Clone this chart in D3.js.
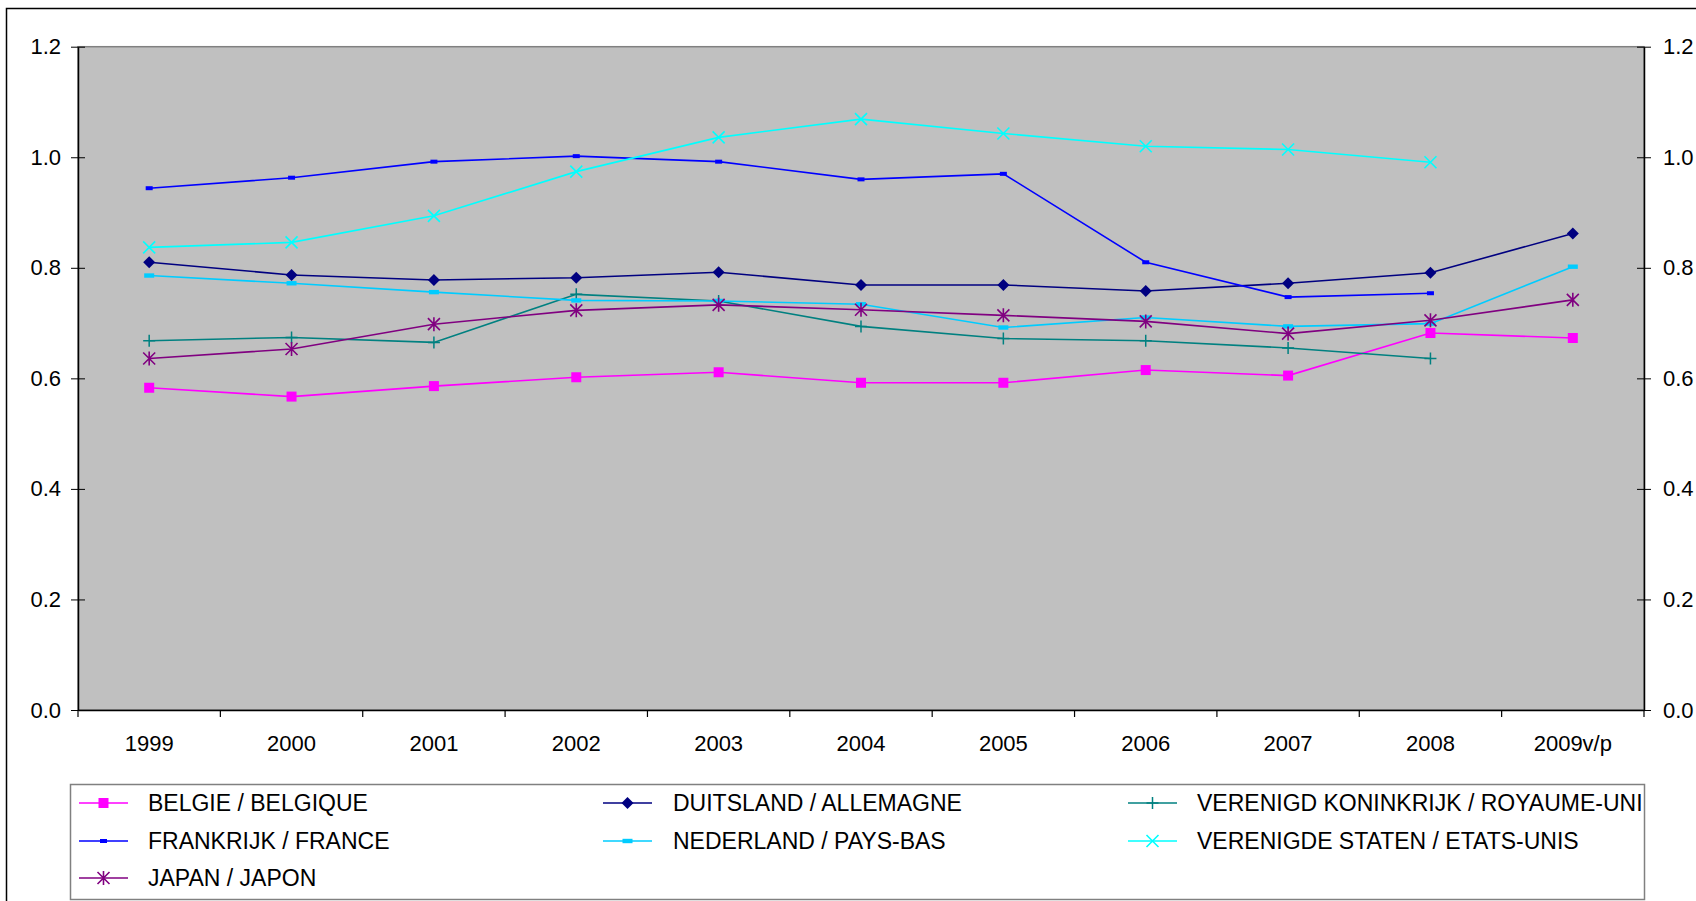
<!DOCTYPE html>
<html>
<head>
<meta charset="utf-8">
<script src="https://cdn.jsdelivr.net/npm/d3@7"></script>
<style>
  html, body { margin: 0; padding: 0; background: #fff; }
  svg { display: block; font-family: "Liberation Sans", Arial, sans-serif; }
</style>
</head>
<body>
<svg id="chart" width="1696" height="901"></svg>
<script>
const categories = ["1999","2000","2001","2002","2003","2004","2005","2006","2007","2008","2009v/p"];
const yTicks = [0, 0.2, 0.4, 0.6, 0.8, 1.0, 1.2];

const belgie      = [0.583, 0.567, 0.586, 0.602, 0.611, 0.592, 0.592, 0.615, 0.605, 0.682, 0.673];
const duitsland   = [0.810, 0.787, 0.778, 0.782, 0.792, 0.769, 0.769, 0.758, 0.772, 0.791, 0.862];
const verenigdK   = [0.668, 0.674, 0.665, 0.752, 0.740, 0.694, 0.672, 0.668, 0.655, 0.636, null];
const frankrijk   = [0.944, 0.963, 0.992, 1.002, 0.992, 0.960, 0.970, 0.810, 0.747, 0.754, null];
const nederland   = [0.786, 0.772, 0.756, 0.741, 0.740, 0.734, 0.692, 0.710, 0.694, 0.699, 0.802];
const verenigdS   = [0.837, 0.846, 0.894, 0.974, 1.036, 1.069, 1.043, 1.020, 1.014, 0.991, null];
const japan       = [0.636, 0.653, 0.698, 0.723, 0.733, 0.724, 0.714, 0.703, 0.681, 0.705, 0.742];

const seriesNames = [
  "BELGIE / BELGIQUE", "DUITSLAND / ALLEMAGNE", "VERENIGD KONINKRIJK / ROYAUME-UNI",
  "FRANKRIJK / FRANCE", "NEDERLAND / PAYS-BAS", "VERENIGDE STATEN / ETATS-UNIS",
  "JAPAN / JAPON"
];
const seriesValues = [belgie, duitsland, verenigdK, frankrijk, nederland, verenigdS, japan];
const seriesColors = ["#FF00FF", "#000080", "#008080", "#0000FF", "#00CCFF", "#00FFFF", "#800080"];
const seriesMarkers = ["square", "diamond", "plus", "dashSmall", "dashWide", "x", "star"];

const svg = d3.select("#chart");
const FONT = 22;
const LEGEND_FONT = 23;

// outer chart border
svg.append("rect").attr("x", 6.5).attr("y", 8.5).attr("width", 1700).attr("height", 900)
  .attr("fill", "#fff").attr("stroke", "#000").attr("stroke-width", 1.5);

const plot = { left: 78, right: 1644, top: 46.7, bottom: 710 };
const x = d3.scaleBand().domain(categories).range([plot.left, plot.right]).padding(0);
const y = d3.scaleLinear().domain([0, 1.2]).range([plot.bottom, plot.top]);
const cx = c => x(c) + x.bandwidth() / 2;

// plot background
svg.append("rect").attr("x", plot.left).attr("y", plot.top)
  .attr("width", plot.right - plot.left).attr("height", plot.bottom - plot.top)
  .attr("fill", "#C0C0C0").attr("stroke", "#808080").attr("stroke-width", 1.5);

// left axis (cross ticks)
const gl = svg.append("g").attr("transform", `translate(${plot.left},0)`)
  .call(d3.axisLeft(y).tickValues(yTicks).tickFormat(d3.format(".1f")).tickSize(7).tickSizeOuter(0).tickPadding(10));
gl.selectAll(".tick line").attr("x2", -7).attr("x1", 7);
gl.select(".domain").attr("stroke", "#000").attr("stroke-width", 1.5);
gl.selectAll("text").attr("font-size", FONT).attr("fill", "#000").attr("font-family", "Liberation Sans, Arial, sans-serif");

// right axis (cross ticks)
const gr = svg.append("g").attr("transform", `translate(${plot.right},0)`)
  .call(d3.axisRight(y).tickValues(yTicks).tickFormat(d3.format(".1f")).tickSize(7).tickSizeOuter(0).tickPadding(12));
gr.selectAll(".tick line").attr("x1", -7).attr("x2", 7);
gr.select(".domain").attr("stroke", "#000").attr("stroke-width", 1.5);
gr.selectAll("text").attr("font-size", FONT).attr("fill", "#000").attr("font-family", "Liberation Sans, Arial, sans-serif");

// bottom axis: labels centred in bands, ticks on band boundaries
const gb = svg.append("g").attr("transform", `translate(0,${plot.bottom})`)
  .call(d3.axisBottom(x).tickSize(0).tickPadding(25));
gb.select(".domain").attr("stroke", "#000").attr("stroke-width", 1.5);
gb.selectAll("text").attr("font-size", FONT).attr("fill", "#000").attr("font-family", "Liberation Sans, Arial, sans-serif");
const bounds = categories.map(c => x(c)).concat([plot.right]);
gb.selectAll(".bnd").data(bounds).enter().append("line")
  .attr("x1", d => d).attr("x2", d => d).attr("y1", 0).attr("y2", 7)
  .attr("stroke", "#000").attr("stroke-width", 1.2);

// marker drawing
function drawMarker(g, type, color, px, py) {
  switch (type) {
    case "square":
      g.append("rect").attr("x", px - 5).attr("y", py - 5).attr("width", 10).attr("height", 10).attr("fill", color);
      break;
    case "diamond":
      g.append("path").attr("d", `M${px},${py-6}L${px+6},${py}L${px},${py+6}L${px-6},${py}Z`).attr("fill", color);
      break;
    case "plus":
      g.append("path").attr("d", `M${px-6},${py}H${px+6}M${px},${py-6}V${py+6}`).attr("stroke", color).attr("stroke-width", 1.5);
      break;
    case "dashSmall":
      g.append("rect").attr("x", px - 3.5).attr("y", py - 2).attr("width", 7).attr("height", 4).attr("fill", color);
      break;
    case "dashWide":
      g.append("rect").attr("x", px - 5).attr("y", py - 2.2).attr("width", 10).attr("height", 4.4).attr("fill", color);
      break;
    case "x":
      g.append("path").attr("d", `M${px-6},${py-6}L${px+6},${py+6}M${px+6},${py-6}L${px-6},${py+6}`).attr("stroke", color).attr("stroke-width", 1.6);
      break;
    case "star":
      g.append("path").attr("d", `M${px-6},${py-6}L${px+6},${py+6}M${px+6},${py-6}L${px-6},${py+6}M${px},${py-7}V${py+7}`).attr("stroke", color).attr("stroke-width", 1.6);
      break;
  }
}

// series lines and markers
const line = d3.line().defined(d => d.v != null).x(d => cx(d.c)).y(d => y(d.v));
seriesValues.forEach((vals, i) => {
  const data = categories.map((c, k) => ({ c, v: vals[k] }));
  const g = svg.append("g");
  g.append("path").datum(data).attr("d", line).attr("fill", "none")
    .attr("stroke", seriesColors[i]).attr("stroke-width", 1.6);
  data.filter(d => d.v != null).forEach(d => drawMarker(g, seriesMarkers[i], seriesColors[i], cx(d.c), y(d.v)));
});

// legend
svg.append("rect").attr("x", 70.5).attr("y", 784.5).attr("width", 1574).attr("height", 115)
  .attr("fill", "#fff").attr("stroke", "#808080").attr("stroke-width", 1.5);
const colLine = [[79, 128], [603, 652], [1128, 1177]];
const colText = [148, 673, 1197];
const rowY = [803, 841, 878];
seriesNames.forEach((name, i) => {
  const col = i % 3, row = Math.floor(i / 3);
  const g = svg.append("g");
  const ly = rowY[row];
  g.append("line").attr("x1", colLine[col][0]).attr("x2", colLine[col][1]).attr("y1", ly).attr("y2", ly)
    .attr("stroke", seriesColors[i]).attr("stroke-width", 1.6);
  drawMarker(g, seriesMarkers[i], seriesColors[i], (colLine[col][0] + colLine[col][1]) / 2, ly);
  g.append("text").attr("x", colText[col]).attr("y", ly).attr("dy", "0.35em")
    .attr("font-size", LEGEND_FONT).attr("fill", "#000").text(name);
});
</script>
</body>
</html>
